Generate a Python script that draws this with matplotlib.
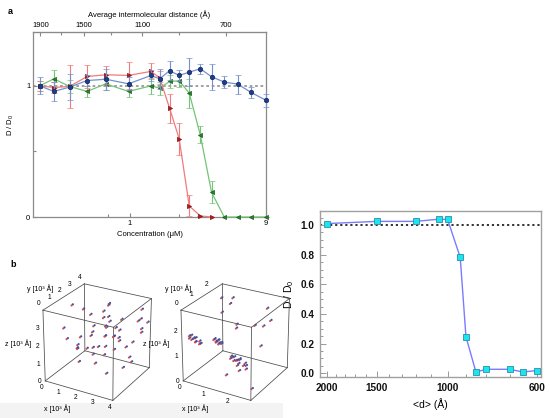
import numpy as np
import matplotlib
matplotlib.use('Agg')
import matplotlib.pyplot as plt
from matplotlib.ticker import FixedLocator, NullFormatter
from mpl_toolkits.mplot3d import proj3d
from itertools import product, combinations
import warnings
warnings.filterwarnings('ignore')

plt.rcParams['font.family'] = ['Liberation Sans', 'DejaVu Sans']

# ---------------- panel a data ----------------
conc = [0.234, 0.294, 0.379, 0.502, 0.68, 0.98, 1.41, 1.62, 1.90, 2.22, 2.61,
        3.12, 3.74, 4.59, 5.70, 7.08, 9.0]
blue_y = [1.0, 0.957, 0.99, 1.04, 1.05, 1.015, 1.079, 1.053, 1.115, 1.079, 1.104,
          1.13, 1.069, 1.028, 1.013, 0.949, 0.89]
blue_err = [0.064, 0.075, 0.10, 0.04, 0.08, 0.05, 0.045, 0.074, 0.072, 0.045, 0.108,
            0.037, 0.098, 0.045, 0.073, 0.04, 0.05]
red_y = [1.0, 0.987, 0.995, 1.071, 1.084, 1.079, 1.11, 1.06, 0.83, 0.595, 0.084, 0.008, 0.0]
red_err = [0.04, 0.04, 0.164, 0.09, 0.07, 0.1, 0.06, 0.05, 0.11, 0.12, 0.08, 0.0, 0.0]
green_y = [1.0, 1.053, 0.995, 0.957, 1.015, 0.957, 1.0, 0.982, 1.033, 1.038, 0.944,
           0.626, 0.188, 0.0, 0.0, 0.0, 0.0]
green_err = [0.04, 0.07, 0.05, 0.045, 0.045, 0.04, 0.06, 0.05, 0.05, 0.05, 0.11,
             0.064, 0.083, 0.0, 0.0, 0.0, 0.0]
top_ticks = [1900, 1500, 1100, 700]
top_minor = [1700, 1300, 900]
K_DIST = 1175.0

# ---------------- panel c data ----------------
d_vals = [2000, 1500, 1200, 1050, 1000, 930, 900, 850, 800, 700, 650, 600]
dd0_vals = [1.01, 1.025, 1.025, 1.04, 1.038, 0.782, 0.247, 0.009, 0.027, 0.027, 0.009, 0.018]
c_xticks = [2000, 1500, 1000, 600]
c_xminor = [1900, 1800, 1700, 1600, 1400, 1300, 1200, 1100, 900, 800, 700]

# ---------------- panel b data (10^3 Å) ----------------
left_x = [0.4,0.9,1.3,1.6,2.1,2.4,2.7,3.0,3.3,3.6,0.7,1.1,1.5,1.9,2.2,2.6,2.9,3.2,3.5,3.8,
          0.5,1.0,1.4,1.8,2.3,2.8,3.1,3.4,3.7,1.2,1.7,2.0,2.5,3.0,3.6,0.8,1.6,2.2,2.7,3.3,
          3.8,3.9,3.7,3.5,2.4,1.9,1.3,2.9,3.1,0.6]
left_y = [1.2,3.1,2.4,0.6,3.5,1.8,2.9,0.9,3.2,1.5,2.0,0.4,3.6,2.7,1.1,3.9,2.2,0.7,2.6,3.3,
          3.0,1.7,0.9,3.4,2.5,1.3,3.7,2.1,0.5,2.8,1.9,3.1,0.8,2.4,3.6,1.4,2.2,3.3,1.6,0.3,
          2.9,3.8,3.5,3.9,2.0,1.0,3.2,2.6,1.2,2.5]
left_z = [2.6,1.5,3.1,2.2,0.8,3.4,1.9,2.9,0.5,3.7,1.2,2.5,2.0,3.3,1.6,0.9,2.8,3.5,1.1,2.3,
          3.0,0.6,1.8,2.7,3.8,2.1,1.4,0.7,3.2,1.0,2.4,3.6,1.3,2.0,2.9,3.9,2.6,1.7,0.4,2.2,
          3.1,2.7,2.4,3.3,2.3,1.9,0.9,2.5,3.6,1.6]
right_x = [0.3,0.5,0.9,1.3,1.6,2.0,2.3,2.5,1.1,0.7,1.8,2.6,2.2,1.5,0.4,2.7]
right_y = [2.2,2.5,2.0,1.6,2.4,2.6,2.3,1.2,0.9,2.6,1.4,0.4,0.2,0.5,1.8,1.0]
right_z = [2.5,2.2,2.7,1.9,1.6,2.3,2.0,1.5,2.6,1.2,0.3,0.2,0.9,0.4,0.8,2.4]
ca_x = [0.10,0.20,0.32,0.45,0.52,0.48,0.38,0.22,0.12,0.30,0.40,0.25]
ca_y = [0.30,0.15,0.10,0.18,0.32,0.45,0.52,0.50,0.42,0.30,0.25,0.35]
ca_z = [1.60,1.78,1.85,1.75,1.58,1.42,1.35,1.40,1.50,1.65,1.55,1.62]
cb_x = [0.75,0.85,0.98,1.05,1.00,0.88,0.78,0.92,0.86]
cb_y = [0.90,0.80,0.82,0.92,1.02,1.06,1.00,0.95,0.88]
cb_z = [1.45,1.55,1.52,1.40,1.30,1.28,1.35,1.45,1.38]
cc_x = [1.62,1.75,1.92,2.08,2.20,2.15,2.00,1.82,1.68,1.90,2.02,1.80,1.95,1.72]
cc_y = [0.60,0.42,0.35,0.45,0.62,0.78,0.85,0.82,0.72,0.60,0.55,0.68,0.50,0.55]
cc_z = [1.05,1.25,1.30,1.22,1.00,0.82,0.75,0.80,0.92,1.05,1.12,0.98,0.90,1.15]

W, H = 550, 418
fig = plt.figure(figsize=(5.5, 4.18), dpi=100)
fig.patch.set_facecolor('white')


def fa(l, t, r, b):
    return [l / W, 1 - b / H, (r - l) / W, (b - t) / H]


# ---------------- panel a ----------------
axa = fig.add_axes(fa(33, 32, 266, 217))
axa.set_xscale('log')
axa.set_xlim(0.21, 9.0)
axa.set_ylim(0, 1.41)
axa.axhline(1.0, color='#9a9a9a', ls=(0, (1.5, 1.5)), lw=1.3, zorder=1)


def series(x, y, e, lc, mc, ec, mk, z, ms):
    axa.errorbar(x, y, yerr=e, color=lc, lw=0.9, elinewidth=0.8, capsize=2.2,
                 capthick=0.8, marker=mk, ms=ms, mfc=mc, mec=ec, mew=0.5,
                 zorder=z, clip_on=False)


n_red = len(red_y)
series(conc, green_y, green_err, '#74c476', '#2f7d32', '#1b5e20', '<', 3, 3.0)
series(conc[:n_red], red_y, red_err, '#ef7b7b', '#b22222', '#7f1010', '>', 4, 3.0)
series(conc, blue_y, blue_err, '#7590cf', '#1d3f8a', '#0f2560', 'o', 5, 3.2)

axa.set_xticks([1, 9], labels=['1', '9'])
axa.xaxis.set_minor_locator(FixedLocator([0.7, 2.2]))
axa.xaxis.set_minor_formatter(NullFormatter())
axa.set_yticks([0, 1], labels=['0', '1'])
axa.yaxis.set_minor_locator(FixedLocator([0.5]))
axa.tick_params(which='both', direction='in', color='#888888', width=0.8,
                labelsize=5.5, pad=2)
axa.tick_params(which='major', length=3)
axa.tick_params(which='minor', length=2)
for s in axa.spines.values():
    s.set_color('#8a8a8a')
    s.set_linewidth(0.9)
axa.set_xlabel('Concentration (μM)', fontsize=5.5, labelpad=3)
axa.set_ylabel('D / D$_\\mathregular{0}$', fontsize=5.5, labelpad=7)


def c2d(c):
    c = np.asarray(c, dtype=float)
    return K_DIST * np.power(np.abs(c) + 1e-12, -1.0 / 3.0)


def d2c(d):
    d = np.asarray(d, dtype=float)
    return (K_DIST / (np.abs(d) + 1e-12)) ** 3


sec = axa.secondary_xaxis('top', functions=(c2d, d2c))
sec.set_xticks(top_ticks, labels=[str(t) for t in top_ticks])
sec.xaxis.set_minor_locator(FixedLocator(top_minor))
sec.xaxis.set_minor_formatter(NullFormatter())
sec.tick_params(which='both', direction='in', color='#888888', width=0.8,
                labelsize=5.5, pad=2)
sec.tick_params(which='major', length=3)
sec.tick_params(which='minor', length=2)
sec.spines['top'].set_color('#8a8a8a')
sec.set_xlabel('Average intermolecular distance (Å)', fontsize=5.5, labelpad=4)

fig.text(8 / W, 1 - 14 / H, 'a', fontsize=6.5, fontweight='bold')
fig.text(10 / W, 1 - 267 / H, 'b', fontsize=6.5, fontweight='bold')

# ---------------- panel c ----------------
axc = fig.add_axes(fa(320, 211, 541, 377))
axc.set_xscale('log')
axc.set_xlim(2080, 585)
axc.set_ylim(-0.025, 1.095)
axc.axhline(1.0, color='#222222', ls=(0, (1.2, 1.6)), lw=1.3, zorder=1)
axc.plot(d_vals, dd0_vals, color='#7b7bff', lw=1.0, marker='s', ms=4.2,
         mfc='#19e6ee', mec='#2a8fa8', mew=0.6, zorder=3)
axc.set_xticks(c_xticks, labels=[str(t) for t in c_xticks])
axc.xaxis.set_minor_locator(FixedLocator(c_xminor))
axc.xaxis.set_minor_formatter(NullFormatter())
axc.set_yticks(np.round(np.arange(0, 1.01, 0.2), 1),
               labels=['0.0', '0.2', '0.4', '0.6', '0.8', '1.0'])
axc.yaxis.set_minor_locator(FixedLocator(np.arange(0.05, 1.09, 0.05)))
axc.tick_params(which='both', direction='in', color='#999999', width=0.7,
                labelsize=7.2, pad=4, labelcolor='#111111')
axc.tick_params(which='major', length=4)
axc.tick_params(which='minor', length=2)
for lab in axc.get_xticklabels() + axc.get_yticklabels():
    lab.set_fontweight('bold')
for s in axc.spines.values():
    s.set_color('#a0a0a0')
    s.set_linewidth(1.0)
axc.set_xlabel('<d> (Å)', fontsize=7.5, labelpad=4)
axc.set_ylabel('D / D$_\\mathregular{0}$', fontsize=7.5, labelpad=3)

# ---------------- panel b ----------------
fig.patches.append(plt.Rectangle((0, 0), 283 / W, 15 / H, transform=fig.transFigure,
                                 facecolor='#f3f3f3', edgecolor='none', zorder=-1))


def cube_axes(rect, L, elev, azim, zoom):
    ax = fig.add_axes(rect, projection='3d', proj_type='persp', focal_length=1.0)
    ax.set_xlim(0, L)
    ax.set_ylim(0, L)
    ax.set_zlim(0, L)
    ax.set_box_aspect((1, 1, 1), zoom=zoom)
    ax.set_axis_off()
    ax.patch.set_alpha(0)
    ax.view_init(elev=elev, azim=azim)
    corners = np.array(list(product([0, L], [0, L], [0, L])))
    for s, e in combinations(corners, 2):
        if np.isclose(np.abs(s - e).sum(), L):
            ax.plot(*zip(s, e), color='#4a4a4a', lw=0.55)
    return ax


def label3d(ax, x, y, z, s, fs):
    # place a 2-D text at the projected position of a 3-D point
    xs, ys, _ = proj3d.proj_transform(x, y, z, ax.get_proj())
    px, py = ax.transData.transform((xs, ys))
    fx, fy = fig.transFigure.inverted().transform((px, py))
    fig.text(fx, fy, s, fontsize=fs, ha='center', va='center')


def cube_labels(ax, L, xt, yt, zt):
    for v in xt:
        label3d(ax, v, -0.08 * L, -0.06 * L, str(v), 4.8)
    for v in yt:
        label3d(ax, -0.07 * L, v, 1.07 * L, str(v), 4.8)
    for v in zt:
        label3d(ax, -0.06 * L, -0.05 * L, v, str(v), 4.8)
    label3d(ax, 0.3 * L, -0.2 * L, -0.22 * L, 'x [10³ Å]', 5)
    label3d(ax, -0.12 * L, 0.12 * L, 1.22 * L, 'y [10³ Å]', 5)
    label3d(ax, -0.3 * L, -0.14 * L, 0.52 * L, 'z [10³ Å]', 5)


def mols(ax, x, y, z, L):
    x = np.asarray(x)
    ax.scatter(x, y, z, s=2.4, c='#d05050', edgecolors='none', depthshade=False)
    ax.scatter(x + 0.02 * L, y, np.asarray(z) + 0.02 * L, s=2.4, c='#4050a0',
               edgecolors='none', depthshade=False)


ax_b1 = cube_axes(fa(14, 266, 178, 418), 4, 26, -60, 0.86)
mols(ax_b1, left_x, left_y, left_z, 4)

ax_b2 = cube_axes(fa(152, 266, 316, 418), 2.8, 26, -60, 0.86)
mols(ax_b2, right_x, right_y, right_z, 2.8)
mols(ax_b2, ca_x, ca_y, ca_z, 2.8)
mols(ax_b2, cb_x, cb_y, cb_z, 2.8)
mols(ax_b2, cc_x, cc_y, cc_z, 2.8)

fig.canvas.draw()
cube_labels(ax_b1, 4, [0, 1, 2, 3, 4], [0, 1, 2, 3, 4], [0, 1, 2, 3])
cube_labels(ax_b2, 2.8, [0, 1, 2], [0, 1, 2], [0, 1, 2])

fig.savefig('out.png', dpi=100, facecolor='white')
